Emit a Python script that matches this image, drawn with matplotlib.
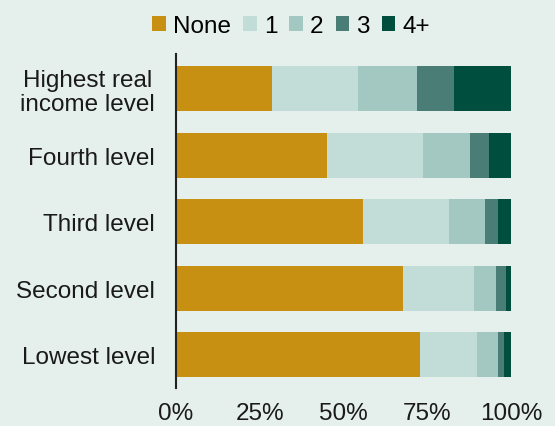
import numpy as np
import matplotlib.pyplot as plt

plt.rcParams['font.family'] = ['Liberation Sans', 'DejaVu Sans']

levels = ['Highest real\nincome level', 'Fourth level', 'Third level',
          'Second level', 'Lowest level']
series = ['None', '1', '2', '3', '4+']
none_vals = [28.7, 45.1, 55.9, 67.8, 72.8]
one_vals = [25.5, 28.5, 25.6, 21.0, 17.0]
two_vals = [17.6, 14.2, 10.8, 6.7, 6.3]
three_vals = [11.1, 5.6, 3.8, 2.9, 1.8]
four_vals = [17.1, 6.6, 3.9, 1.6, 2.1]
colors = ['#c89012', '#c2dcd8', '#a3c7c1', '#4a7d75', '#004f3e']

bg = '#e5efec'
fig = plt.figure(figsize=(5.55, 4.27), dpi=100, facecolor=bg)
ax = fig.add_axes([0.317, 0.089, 0.604, 0.782], facecolor=bg)

y = np.arange(len(levels))
left = np.zeros(len(levels))
for name, vals, c in zip(series, [none_vals, one_vals, two_vals, three_vals, four_vals], colors):
    ax.barh(y, vals, left=left, height=0.675, color=c, label=name)
    left += np.array(vals)

ax.set_ylim(len(levels) - 0.5, -0.52)
ax.set_xlim(0, 100)
ax.set_yticks(y)
ax.set_yticklabels(levels, multialignment='center', linespacing=1.1)
ax.set_xticks([0, 25, 50, 75, 100])
ax.set_xticklabels(['0%', '25%', '50%', '75%', '100%'])
ax.tick_params(axis='both', length=0, labelsize=17.5, colors='#1a1a1a')
ax.tick_params(axis='y', pad=15)
ax.tick_params(axis='x', pad=10)
for s in ['top', 'right', 'bottom']:
    ax.spines[s].set_visible(False)
ax.spines['left'].set_linewidth(1.5)
ax.spines['left'].set_color('#222222')

fig.legend(loc='center', bbox_to_anchor=(0.525, 0.936), ncol=5, frameon=False,
           fontsize=17.5, handlelength=0.55, handleheight=0.55,
           handletextpad=0.3, columnspacing=0.5, borderaxespad=0)

fig.savefig('out.png', dpi=100, facecolor=bg)
